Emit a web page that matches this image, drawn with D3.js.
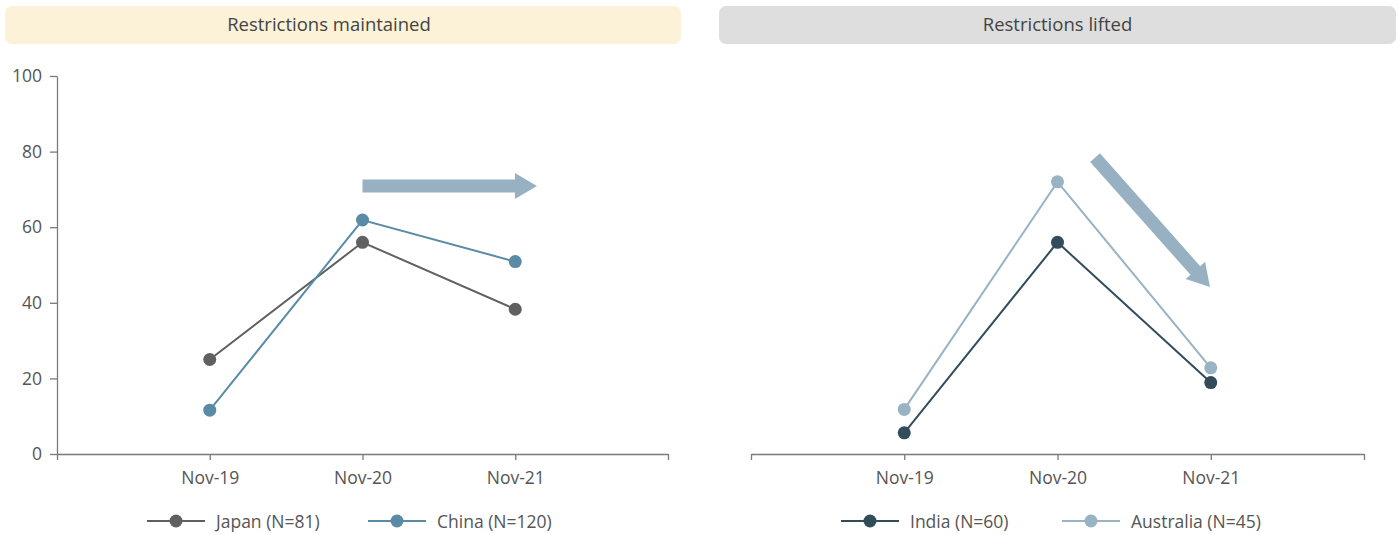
<!DOCTYPE html>
<html><head><meta charset="utf-8">
<script src="https://cdn.jsdelivr.net/npm/d3@7"></script>
<style>body{margin:0;background:#fff;} svg{display:block;font-family:"Open Sans","Noto Sans",sans-serif;}</style>
</head><body>
<svg id="c" width="1399" height="535"></svg>
<script>
const categories = ["Nov-19", "Nov-20", "Nov-21"];
const yTicks = [0, 20, 40, 60, 80, 100];
const panelTitles = ["Restrictions maintained", "Restrictions lifted"];
const japan = [25, 56, 38.3];
const china = [11.6, 61.9, 50.9];
const india = [5.6, 56, 18.9];
const australia = [11.8, 72, 22.8];
const seriesNames = ["Japan (N=81)", "China (N=120)", "India (N=60)", "Australia (N=45)"];
// arrow annotations in data space: [categoryIndexStart, valueStart, categoryIndexEnd, valueEnd]
const arrowLeft = [1.0, 70.9, 2.142, 70.9];
const arrowRight = [1.245, 78.4, 1.995, 44.2];

const panels = [
  {title: panelTitles[0], bg: "#fbf2d8", x0: 57, x1: 668, hx: 5, hw: 676, tx: 329, yAxis: true,
   series: [{name: seriesNames[0], values: japan, color: "#606060"},
            {name: seriesNames[1], values: china, color: "#5a8ba6"}],
   arrow: arrowLeft, legendX: [147, 368]},
  {title: panelTitles[1], bg: "#dedede", x0: 751, x1: 1364, hx: 719, hw: 677, tx: 1057.5, yAxis: false,
   series: [{name: seriesNames[2], values: india, color: "#334c5b"},
            {name: seriesNames[3], values: australia, color: "#98b3c4"}],
   arrow: arrowRight, legendX: [841, 1062]}
];

const svg = d3.select("#c");
const y = d3.scaleLinear().domain([0, 100]).range([454, 76]);
const axisColor = "#7a7a7a", textColor = "#555";
const fs = 17.5;

panels.forEach(p => {
  const g = svg.append("g");
  // header
  g.append("rect").attr("x", p.hx).attr("y", 6).attr("width", p.hw).attr("height", 38)
    .attr("rx", 7).attr("fill", p.bg);
  g.append("text").attr("x", p.tx).attr("y", 31).attr("text-anchor", "middle")
    .attr("font-size", 18.5).attr("fill", "#444").text(p.title);

  const x = d3.scaleLinear().domain([-1, 3]).range([p.x0, p.x1]);

  // x axis
  const xa = g.append("g").attr("transform", `translate(0,${y(0)})`)
    .call(d3.axisBottom(x).tickValues([-1, 0, 1, 2, 3]).tickSize(6).tickSizeOuter(0)
      .tickFormat(d => categories[d] || ""));
  xa.attr("font-size", fs).attr("font-family", null);
  xa.select(".domain").attr("stroke", axisColor).attr("stroke-width", 1.3);
  xa.selectAll(".tick line").attr("stroke", axisColor).attr("stroke-width", 1.3);
  xa.selectAll(".tick text").attr("fill", textColor).attr("dy", "1.2em");

  if (p.yAxis) {
    const ya = g.append("g").attr("transform", `translate(${p.x0},0)`)
      .call(d3.axisLeft(y).tickValues(yTicks).tickSize(7).tickSizeOuter(0).tickPadding(8));
    ya.attr("font-size", fs).attr("font-family", null);
    ya.select(".domain").attr("stroke", axisColor).attr("stroke-width", 1.3);
    ya.selectAll(".tick line").attr("stroke", axisColor).attr("stroke-width", 1.3);
    ya.selectAll(".tick text").attr("fill", textColor);
  }

  // arrow
  const [ai0, av0, ai1, av1] = p.arrow;
  const sx = x(ai0), sy = y(av0), ex = x(ai1), ey = y(av1);
  const len = Math.hypot(ex - sx, ey - sy), ux = (ex - sx) / len, uy = (ey - sy) / len;
  const nx = -uy, ny = ux, sw = 6.5, hw = 13, hl = 22;
  const bx = ex - ux * hl, by = ey - uy * hl;
  const pts = [
    [sx + nx * sw, sy + ny * sw], [bx + nx * sw, by + ny * sw], [bx + nx * hw, by + ny * hw],
    [ex, ey], [bx - nx * hw, by - ny * hw], [bx - nx * sw, by - ny * sw], [sx - nx * sw, sy - ny * sw]
  ];
  g.append("polygon").attr("points", pts.map(q => q.join(",")).join(" ")).attr("fill", "#97b1c3");

  // series
  const line = d3.line().x((d, i) => x(i)).y(d => y(d));
  p.series.forEach(s => {
    g.append("path").attr("d", line(s.values)).attr("fill", "none")
      .attr("stroke", s.color).attr("stroke-width", 2);
    g.selectAll(null).data(s.values).enter().append("circle")
      .attr("cx", (d, i) => x(i)).attr("cy", d => y(d)).attr("r", 6.5).attr("fill", s.color);
  });

  // legend
  p.series.forEach((s, k) => {
    const lx = p.legendX[k], ly = 521;
    g.append("line").attr("x1", lx).attr("x2", lx + 58).attr("y1", ly).attr("y2", ly)
      .attr("stroke", s.color).attr("stroke-width", 2);
    g.append("circle").attr("cx", lx + 29).attr("cy", ly).attr("r", 6.5).attr("fill", s.color);
    g.append("text").attr("x", lx + 69).attr("y", ly + 6.5).attr("font-size", fs)
      .attr("fill", textColor).text(s.name);
  });
});
</script>
</body></html>
